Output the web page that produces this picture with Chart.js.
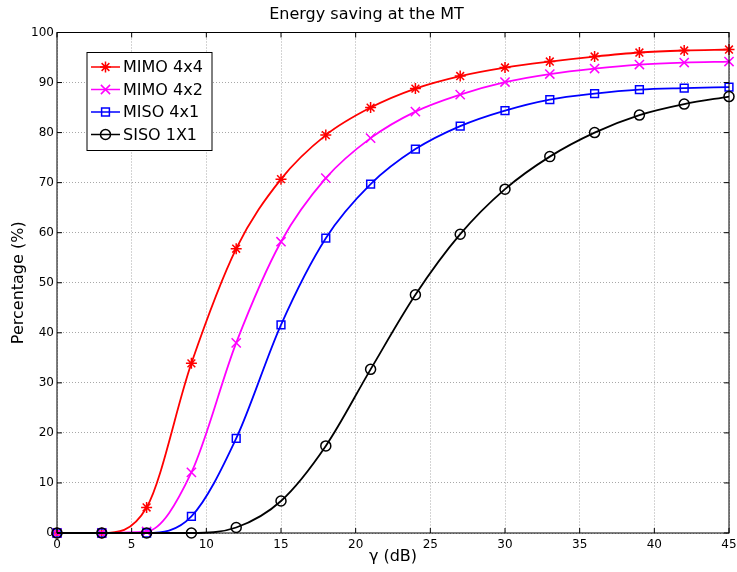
<!DOCTYPE html>
<html>
<head>
<meta charset="utf-8">
<script src="https://cdn.jsdelivr.net/npm/chart.js@4/dist/chart.umd.min.js"></script>
<style>
  body { margin: 0; background: #fff; }
  canvas { display: block; }
</style>
</head>
<body>
<canvas id="myChart" width="737" height="572"></canvas>
<script>
// gamma values (dB) where the markers sit
const gammaDb = [0, 3, 6, 9, 12, 15, 18, 21, 24, 27, 30, 33, 36, 39, 42, 45];

const mimo4x4 = [0, 0, 5.1, 33.9, 56.8, 70.7, 79.5, 85.0, 88.8, 91.3, 93.0, 94.2, 95.2, 96.0, 96.4, 96.6];
const mimo4x2 = [0, 0, 0.3, 12.1, 38.0, 58.2, 70.9, 78.9, 84.2, 87.6, 90.1, 91.7, 92.8, 93.6, 94.0, 94.2];
const miso4x1 = [0, 0, 0, 3.3, 18.9, 41.6, 58.9, 69.7, 76.7, 81.3, 84.4, 86.6, 87.8, 88.6, 88.9, 89.1];
const siso1x1 = [0, 0, 0, 0, 1.1, 6.4, 17.4, 32.7, 47.6, 59.7, 68.7, 75.2, 80.0, 83.5, 85.7, 87.2];

const seriesNames = ["MIMO 4x4", "MIMO 4x2", "MISO 4x1", "SISO 1X1"];
const xTicks = [0, 5, 10, 15, 20, 25, 30, 35, 40, 45];
const yTicks = [0, 10, 20, 30, 40, 50, 60, 70, 80, 90, 100];

Chart.defaults.font.family = "'DejaVu Sans', sans-serif";
Chart.defaults.color = "#000";

function makeSet(name, values, color, style, radius, order) {
  return {
    label: name,
    data: gammaDb.map((g, i) => ({ x: g, y: values[i] })),
    borderColor: color,
    borderWidth: 1.8,
    pointStyle: style,
    pointRadius: radius,
    pointBorderWidth: 1.5,
    pointBorderColor: color,
    pointBackgroundColor: "rgba(0,0,0,0)",
    cubicInterpolationMode: "monotone",
    fill: false,
    clip: false,
    order: order,
  };
}

const datasets = [
  makeSet(seriesNames[0], mimo4x4, "#ff0000", "star", 5.5, 3),
  makeSet(seriesNames[1], mimo4x2, "#ff00ff", "crossRot", 6.5, 2),
  makeSet(seriesNames[2], miso4x1, "#0000ff", "rect", 5.5, 1),
  makeSet(seriesNames[3], siso1x1, "#000000", "circle", 5, 0),
];

// matlab look: box, inward ticks, legend inside the axes
const matlabAxes = {
  id: "matlabAxes",
  afterDraw(chart) {
    const { ctx, chartArea: a, scales } = chart;
    const x = scales.x;
    const y = scales.y;
    ctx.save();
    ctx.strokeStyle = "#000";
    ctx.lineWidth = 1;
    ctx.beginPath();
    xTicks.forEach((v) => {
      const px = x.getPixelForValue(v);
      ctx.moveTo(px, a.bottom);
      ctx.lineTo(px, a.bottom - 5);
      ctx.moveTo(px, a.top);
      ctx.lineTo(px, a.top + 5);
    });
    yTicks.forEach((v) => {
      const py = y.getPixelForValue(v);
      ctx.moveTo(a.left, py);
      ctx.lineTo(a.left + 5, py);
      ctx.moveTo(a.right, py);
      ctx.lineTo(a.right - 5, py);
    });
    ctx.stroke();
    ctx.strokeRect(a.left, a.top, a.right - a.left, a.bottom - a.top);

    // legend box
    const lx = a.left + 30;
    const ly = a.top + 20;
    ctx.fillStyle = "#fff";
    ctx.fillRect(lx, ly, 125, 98);
    ctx.strokeRect(lx, ly, 125, 98);
    ctx.font = "16px 'DejaVu Sans'";
    ctx.textBaseline = "middle";
    ctx.textAlign = "left";
    chart.data.datasets.forEach((ds, i) => {
      const cy = ly + 14.5 + i * 22.5;
      ctx.strokeStyle = ds.borderColor;
      ctx.lineWidth = 1.5;
      ctx.beginPath();
      ctx.moveTo(lx + 4, cy);
      ctx.lineTo(lx + 33, cy);
      ctx.stroke();
      ctx.fillStyle = "rgba(0,0,0,0)";
      Chart.helpers.drawPoint(ctx, {
        pointStyle: ds.pointStyle,
        radius: ds.pointRadius,
        borderWidth: ds.pointBorderWidth,
        rotation: 0,
      }, lx + 18.5, cy);
      ctx.fillStyle = "#000";
      ctx.fillText(ds.label, lx + 36, cy + 1);
    });
    ctx.restore();
  },
};

const config = {
  type: "line",
  data: { datasets: datasets },
  options: {
    responsive: false,
    animation: false,
    layout: { padding: { top: 0, right: 4, bottom: 0, left: 0 } },
    plugins: {
      legend: { display: false },
      tooltip: { enabled: false },
      title: {
        display: true,
        text: "Energy saving at the MT",
        color: "#000",
        font: { size: 16, weight: "normal" },
        padding: { top: 5, bottom: 8.3 },
      },
    },
    scales: {
      x: {
        type: "linear",
        min: 0,
        max: 45,
        afterBuildTicks: (scale) => {
          scale.ticks = xTicks.map((v) => ({ value: v }));
        },
        afterFit: (scale) => {
          scale.height = 39;
          scale.paddingLeft = 0;
          scale.paddingRight = 0;
        },
        ticks: { font: { size: 12 }, padding: 5, color: "#000" },
        grid: { color: "#a8a8a8", lineWidth: 1, drawTicks: false },
        border: { display: false, dash: [1, 2] },
        title: {
          display: true,
          text: "γ (dB)",
          font: { size: 16 },
          color: "#000",
          padding: { top: 0, bottom: 6 },
        },
      },
      y: {
        type: "linear",
        min: 0,
        max: 100,
        afterBuildTicks: (scale) => {
          scale.ticks = yTicks.map((v) => ({ value: v }));
        },
        afterFit: (scale) => {
          scale.width = 57;
          scale.paddingTop = 0;
          scale.paddingBottom = 0;
        },
        ticks: { font: { size: 12 }, padding: 3, color: "#000" },
        grid: { color: "#a8a8a8", lineWidth: 1, drawTicks: false },
        border: { display: false, dash: [1, 2] },
        title: {
          display: true,
          text: "Percentage (%)",
          font: { size: 16 },
          color: "#000",
          padding: { top: 9, bottom: 0 },
        },
      },
    },
  },
  plugins: [matlabAxes],
};

new Chart(document.getElementById("myChart"), config);
</script>
</body>
</html>
